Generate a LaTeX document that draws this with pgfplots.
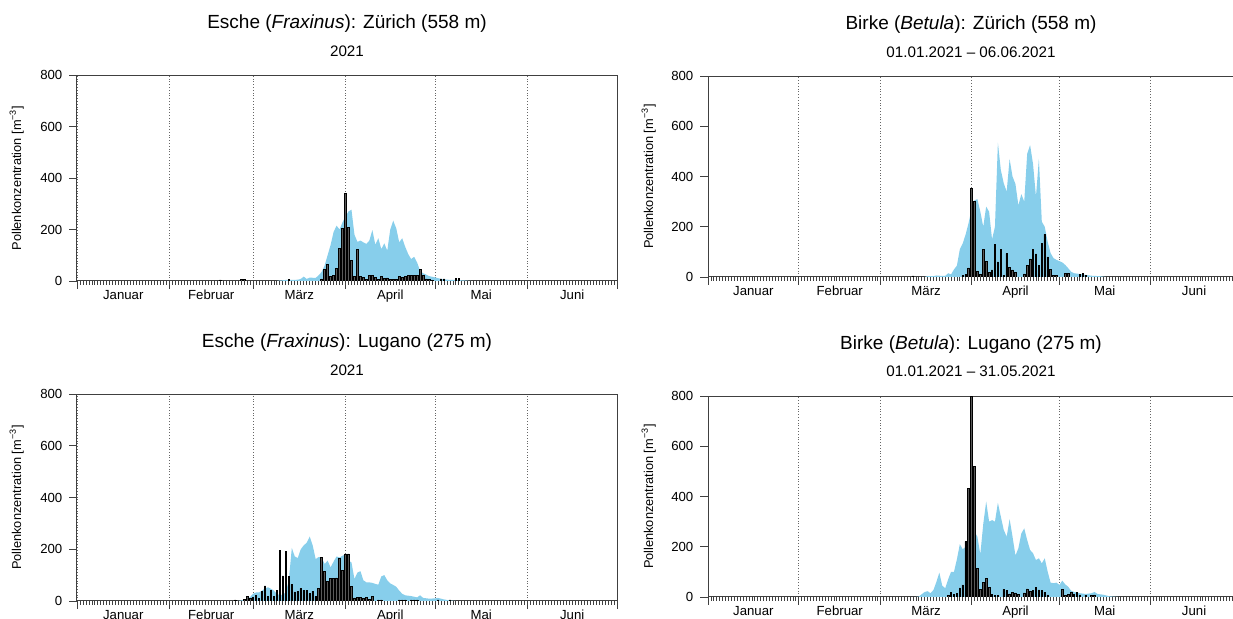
\documentclass[border=0pt]{standalone}
\usepackage{fontspec}
\setmainfont{Liberation Sans}
\usepackage{pgfplots}
\pgfplotsset{compat=1.18}
\definecolor{pblue}{RGB}{135,206,235}

\pgfplotsset{pollen/.style={
  scale only axis, anchor=south west,
  xmin=0, xmax=181, ymin=0, ymax=800,
  axis line style={line width=0.5pt, black!75},
  xtick={0,31,59,90,120,151,181}, xticklabels={},
  minor xtick={0,1,...,181},
  ytick={0,200,400,600,800},
  xtick pos=bottom, ytick pos=left, tick align=outside,
  major tick length=3.8pt, minor tick length=2pt,
  tick style={black!75, line width=0.4pt},
  xmajorgrids, major grid style={densely dotted, black!60, line width=0.4pt},
  extra x ticks={15.5,45,74.5,105,135.5,166},
  extra x tick labels={Januar,Februar,März,April,Mai,Juni},
  extra x tick style={grid=none, major tick length=0pt, tick label style={yshift=-1pt}},
  tick label style={font=\fontsize{6.6}{7}\selectfont},
  /pgf/number format/assume math mode=true,
  ylabel={Pollenkonzentration [m\textsuperscript{\char"2212 3}]},
  ylabel style={font=\fontsize{6.4}{7}\selectfont, at={(axis description cs:-0.098,0.5)}, anchor=south, inner sep=0pt},
}}
\pgfplotsset{bars/.style={ybar, bar width=0.55, draw=black, fill=black!65, line width=0.35pt}}

\begin{document}
\begin{tikzpicture}
\useasboundingbox (0,0) rectangle (616.5pt,309.5pt);

% Esche Zuerich
\begin{axis}[pollen, at={(38.5pt,169pt)}, width=270pt, height=103pt]
\addplot[fill=pblue, draw=none] coordinates {
 (67,0)(68,2)(70,4)(72,4)(74,5)(75,8)(76,17)(77,8)(78,13)(80,12)(81,22)(82,35)(83,60)(84,100)
 (85,140)(86,190)(87,215)(88,200)(89,228)(90,250)(91,270)(92,277)(93,180)(94,152)(95,157)
 (96,150)(97,144)(98,157)(99,198)(100,141)(101,166)(102,124)(103,146)(104,118)(105,200)
 (106,234)(107,205)(108,150)(109,166)(110,133)(111,105)(112,85)(113,94)(114,72)(115,40)
 (116,30)(117,25)(118,19)(120,14)(122,8)(125,4)(127,4)(130,2)(132,0)} \closedcycle;
\addplot[bars] coordinates {
 (48,4)(55,5)(56,5)(71,5)(82,8)(83,45)(84,63)(85,18)(86,21)(87,50)(88,125)(89,204)(90,340)
 (91,207)(92,79)(93,19)(94,122)(95,19)(96,13)(97,5)(98,23)(99,23)(100,13)(101,5)(102,17)
 (103,9)(104,12)(105,6)(106,5)(107,5)(108,19)(109,14)(110,18)(111,23)(112,22)(113,21)
 (114,21)(115,45)(116,23)(117,8)(118,5)(119,3)(122,8)(123,8)(127,10)(128,10)};
\end{axis}

% Birke Zuerich
\begin{axis}[pollen, at={(354pt,171pt)}, width=265pt, height=100.5pt]
\addplot[fill=pblue, draw=none] coordinates {
 (74,0)(75,4)(77,3)(78,6)(80,4)(81,4)(82,15)(83,10)(84,30)(85,45)(86,110)(87,134)(88,170)
 (89,215)(90,270)(91,305)(92,310)(93,260)(94,200)(95,280)(96,260)(97,150)(98,200)(99,535)
 (100,426)(101,373)(102,340)(103,470)(104,400)(105,370)(106,285)(107,330)(108,300)(109,490)
 (110,525)(111,450)(112,320)(113,470)(114,220)(115,200)(116,140)(117,95)(118,75)(119,68)
 (120,63)(121,58)(122,48)(123,35)(124,21)(125,15)(127,12)(129,8)(131,5)(134,3)(136,0)} \closedcycle;
\addplot[bars] coordinates {
 (70,4)(87,5)(88,9)(89,36)(90,354)(91,301)(92,23)(93,11)(94,110)(95,61)(96,17)(97,28)
 (98,131)(99,60)(100,110)(101,7)(102,93)(103,38)(104,28)(105,17)(108,12)(109,46)(110,72)
 (111,110)(112,92)(113,45)(114,134)(115,170)(116,80)(117,31)(118,7)(119,7)(122,13)(123,13)
 (127,9)(128,13)(129,7)};
\end{axis}

% Esche Lugano
\begin{axis}[pollen, at={(38.5pt,9pt)}, width=270pt, height=103.5pt]
\addplot[fill=pblue, draw=none] coordinates {
 (54,0)(55,2)(57,6)(58,15)(59,28)(60,33)(61,33)(62,40)(63,48)(64,53)(65,47)(66,40)(67,28)
 (68,22)(69,25)(70,33)(71,80)(72,205)(73,172)(74,166)(75,200)(76,215)(77,225)(78,249)
 (79,215)(80,162)(81,170)(82,168)(83,143)(84,156)(85,130)(86,152)(87,172)(88,168)(89,175)
 (90,180)(91,156)(92,149)(93,85)(94,110)(95,115)(96,80)(97,72)(98,72)(99,70)(100,66)
 (101,63)(102,95)(103,100)(104,80)(105,68)(106,62)(107,55)(108,40)(109,28)(110,22)(112,19)
 (114,14)(115,22)(116,12)(118,9)(120,10)(121,12)(123,6)(125,2)(127,0)} \closedcycle;
\addplot[bars] coordinates {
 (53,4)(56,6)(57,18)(58,10)(59,14)(60,22)(61,9)(62,37)(63,58)(64,18)(65,41)(66,19)(67,40)
 (68,197)(69,97)(70,191)(71,94)(72,64)(73,35)(74,37)(75,48)(76,41)(77,41)(78,28)(79,37)
 (80,17)(81,49)(82,170)(83,115)(84,75)(85,88)(86,88)(87,89)(88,166)(89,118)(90,182)(91,182)
 (92,57)(93,12)(94,14)(95,14)(96,10)(97,14)(98,6)(99,18)(101,4)(102,4)(108,4)(109,4)
 (110,4)(112,4)(113,4)(114,4)(121,4)(125,4)};
\end{axis}

% Birke Lugano
\begin{axis}[pollen, at={(354pt,11pt)}, width=265pt, height=100.5pt]
\addplot[fill=pblue, draw=none] coordinates {
 (71,0)(72,2)(74,20)(75,23)(76,15)(77,28)(78,60)(79,97)(80,45)(81,35)(82,70)(83,100)(84,100)
 (85,150)(86,210)(87,190)(88,200)(89,230)(90,220)(91,260)(92,240)(93,170)(94,290)(95,380)
 (96,300)(97,306)(98,300)(99,375)(100,320)(101,267)(102,240)(103,310)(104,240)(105,165)
 (106,194)(107,253)(108,273)(109,227)(110,187)(111,174)(112,147)(113,154)(114,134)(115,154)
 (116,101)(117,57)(118,55)(119,57)(120,48)(121,65)(122,50)(123,41)(124,25)(125,20)(127,15)
 (129,12)(131,15)(132,20)(133,12)(135,9)(137,3)(140,0)} \closedcycle;
\addplot[bars] coordinates {
 (82,7)(83,17)(84,11)(85,15)(86,36)(87,48)(88,220)(89,431)(90,800)(91,519)(92,113)(93,30)
 (94,58)(95,73)(96,38)(97,10)(98,5)(99,5)(101,30)(102,26)(103,12)(104,17)(105,16)(106,9)
 (108,16)(109,32)(110,21)(111,25)(112,37)(113,28)(114,27)(115,19)(116,8)(121,31)(122,7)
 (123,11)(124,17)(125,9)(126,17)(127,8)(129,7)(131,5)(132,8)};
\end{axis}

% titles
\node[anchor=base, font=\fontsize{9.5}{11}\selectfont] at (173.5pt,295.4pt) {Esche (\textit{Fraxinus}): Zürich (558 m)};
\node[anchor=base, font=\fontsize{7.6}{9}\selectfont] at (173.5pt,281.2pt) {2021};
\node[anchor=base, font=\fontsize{9.5}{11}\selectfont] at (485.5pt,294.5pt) {Birke (\textit{Betula}): Zürich (558 m)};
\node[anchor=base, font=\fontsize{7.6}{9}\selectfont] at (485.5pt,280.8pt) {01.01.2021 – 06.06.2021};
\node[anchor=base, font=\fontsize{9.5}{11}\selectfont] at (173.5pt,135.9pt) {Esche (\textit{Fraxinus}): Lugano (275 m)};
\node[anchor=base, font=\fontsize{7.6}{9}\selectfont] at (173.5pt,121.7pt) {2021};
\node[anchor=base, font=\fontsize{9.5}{11}\selectfont] at (485.5pt,134.8pt) {Birke (\textit{Betula}): Lugano (275 m)};
\node[anchor=base, font=\fontsize{7.6}{9}\selectfont] at (485.5pt,121.2pt) {01.01.2021 – 31.05.2021};
\end{tikzpicture}
\end{document}
